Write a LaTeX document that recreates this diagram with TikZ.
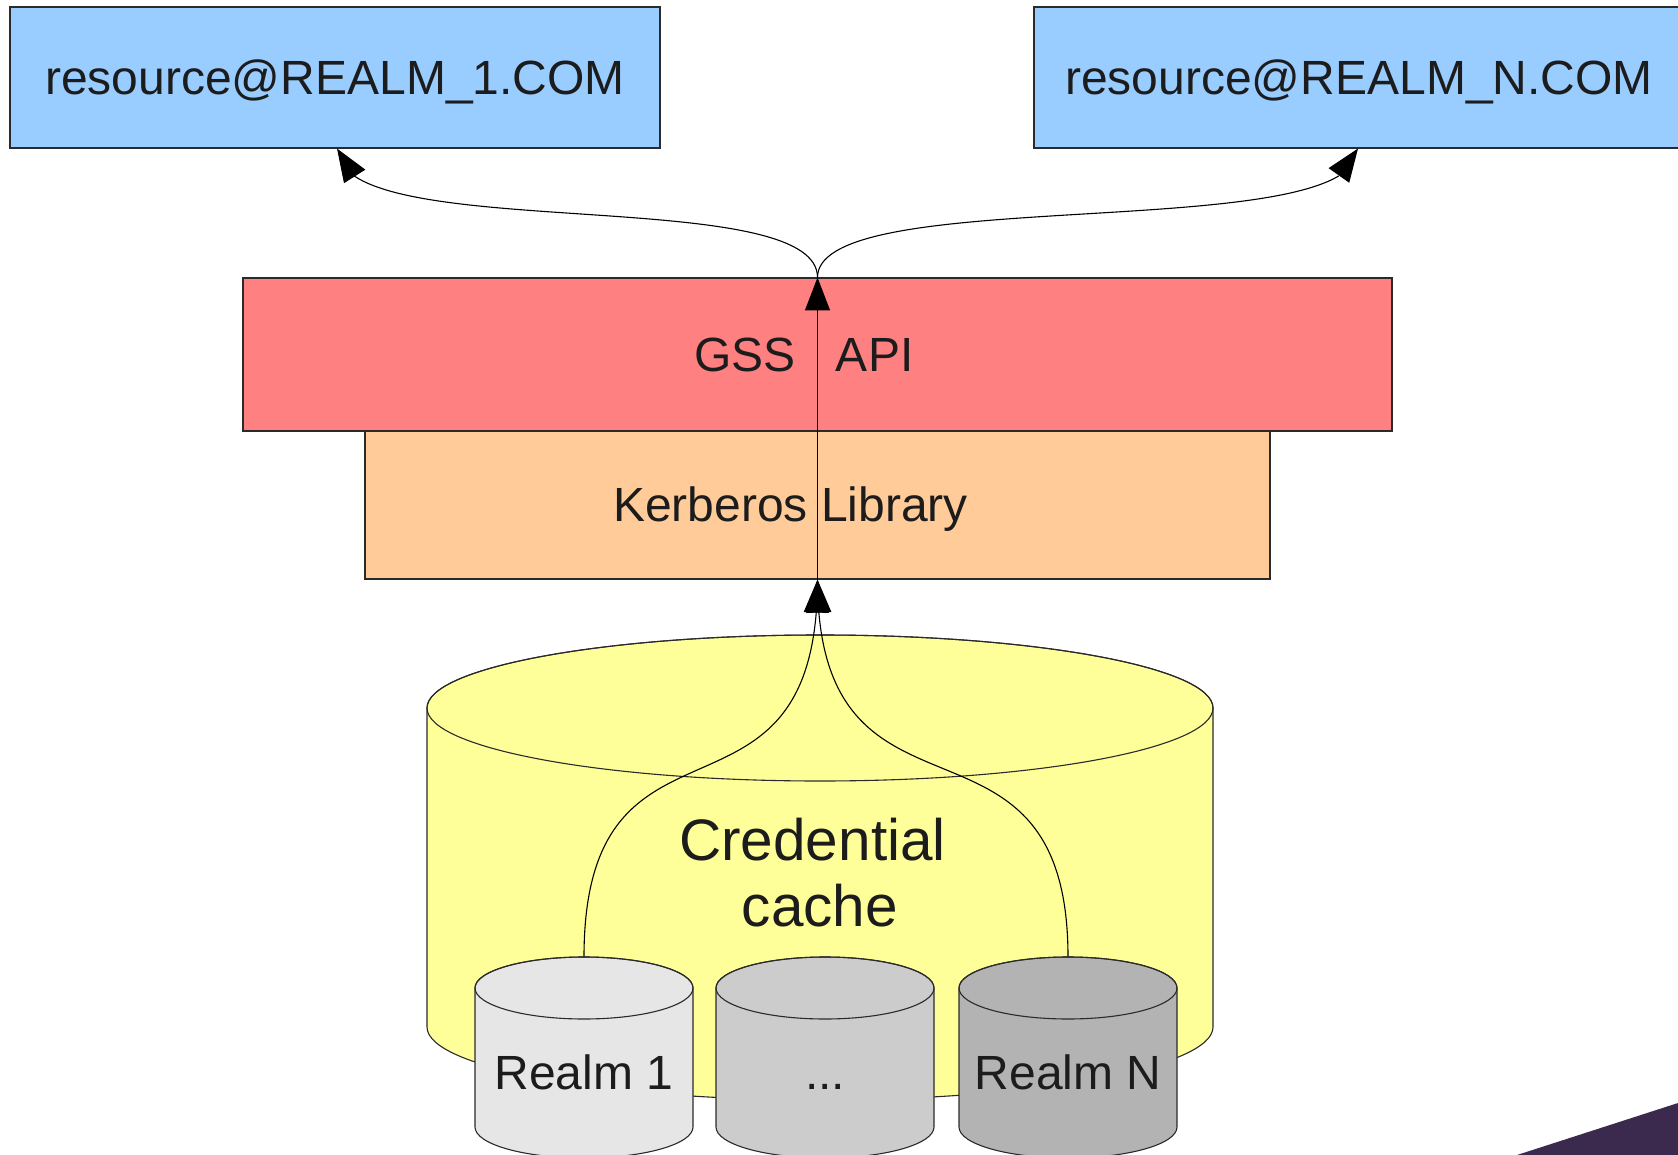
\documentclass[tikz,border=0pt]{standalone}
\usepackage{fontspec}
\setmainfont{Liberation Sans}
\usetikzlibrary{arrows.meta,bending}
\definecolor{blueb}{HTML}{99CCFF}
\definecolor{redb}{HTML}{FF8080}
\definecolor{orab}{HTML}{FFCC99}
\definecolor{yelb}{HTML}{FFFF99}
\definecolor{grayA}{HTML}{E6E6E6}
\definecolor{grayB}{HTML}{CCCCCC}
\definecolor{grayC}{HTML}{B3B3B3}
\definecolor{edgec}{HTML}{2A2A2A}
\definecolor{txt}{HTML}{1C1C1C}
\definecolor{purp}{HTML}{3C2A4E}
\newcommand\drawcyl[6]{%
  \path[fill=#6, draw=edgec, line width=1.1pt]
    (#1-#2,#3) -- (#1-#2,#4)
    arc[start angle=180, end angle=360, x radius=#2pt, y radius=#5pt]
    -- (#1+#2,#3)
    arc[start angle=0, end angle=180, x radius=#2pt, y radius=#5pt] -- cycle;
  \draw[edgec, line width=1.1pt] (#1,#3) ellipse[x radius=#2pt, y radius=#5pt];
}
\begin{document}
\begin{tikzpicture}[x=1pt,y=-1pt,
  box/.style={draw=edgec, line width=1.1pt, inner sep=0pt},
  lbl/.style={text=txt, font=\fontsize{48}{57}\selectfont, inner sep=0pt,
              text height=34.4pt, text depth=0pt, anchor=center},
  biglbl/.style={text=txt, font=\fontsize{58.5}{68}\selectfont, inner sep=0pt, anchor=base},
  conn/.style={draw=black, line width=1.1pt, -{Triangle[length=33pt,width=25pt]}}
]
\useasboundingbox (0,0) rectangle (1678,1155);

% top resource boxes
\node[box, fill=blueb, minimum width=650pt, minimum height=141pt] (res1) at (335,77.5) {};
\node[lbl] (res1t) at (res1.center) {resource@REALM\_1.COM};
\node[box, fill=blueb, minimum width=650pt, minimum height=141pt] (resN) at (1359,77.5) {};
\node[lbl] (resNt) at (resN.center) {resource@REALM\_N.COM};

% GSS API and Kerberos library
\node[box, fill=redb, minimum width=1149pt, minimum height=153pt] (gss) at (817.5,354.5) {};
\node[lbl] (gsst) at ([xshift=-13.5pt]gss.center) {GSS\ \ \ API};
\node[box, fill=orab, minimum width=905pt, minimum height=148pt] (kerb) at (817.5,505) {};
\node[lbl] (kerbt) at ([xshift=-27pt,yshift=1pt]kerb.center) {Kerberos Library};

% credential cache
\drawcyl{820}{393}{708}{1027}{73}{yelb}
\node[biglbl] (cred1) at (812.5,860) {Credential};
\node[biglbl] (cred2) at (820,926) {cache};

% connectors from realms to Kerberos library
\coordinate (c1top) at (584,957);
\coordinate (cNtop) at (1068,957);
\draw[conn] (c1top) .. controls (584,683) and (817.5,854) .. (kerb.south);
\draw[conn] (cNtop) .. controls (1068,683) and (817.5,854) .. (kerb.south);

% realm cylinders
\drawcyl{584}{109}{988}{1127}{31}{grayA}
\node[lbl] (realm1) at (584,1072) {Realm 1};
\drawcyl{825}{109}{988}{1127}{31}{grayB}
\node[lbl] (realmdots) at (825,1072) {...};
\drawcyl{1068}{109}{988}{1127}{31}{grayC}
\node[lbl] (realmN) at (1068,1072) {Realm N};

% Kerberos -> GSS API -> resources
\draw[conn] (kerb.south) -- (gss.north);
\draw[conn] (gss.north) .. controls (817.5,182) and (337,246) .. ([xshift=2pt]res1.south);
\draw[conn] (gss.north) .. controls (817.5,182) and (1358,246) .. ([xshift=-1pt]resN.south);

% corner shape
\fill[purp] (1517,1155) -- (1678,1103) -- (1678,1155) -- cycle;
\end{tikzpicture}
\end{document}
